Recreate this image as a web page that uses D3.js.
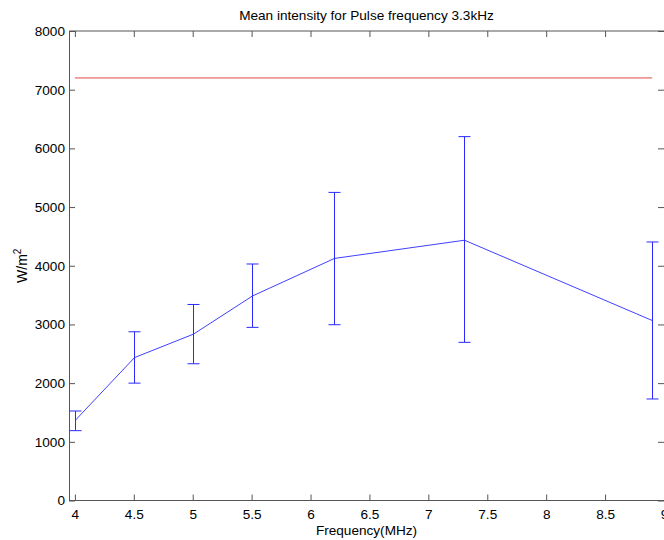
<!DOCTYPE html>
<html><head><meta charset="utf-8">
<script src="https://cdn.jsdelivr.net/npm/d3@7"></script>
<style>body{margin:0;background:#fff}svg{display:block}text{font-family:"Liberation Sans",Arial,sans-serif;fill:#000}</style>
</head><body><svg id="c" width="664" height="540"></svg>
<script>
const freqs = [4, 4.5, 5, 5.5, 6.2, 7.3, 8.9];
const means = [1370, 2435, 2835, 3485, 4125, 4435, 3065];
const lower = [1190, 2000, 2330, 2950, 2995, 2695, 1730];
const upper = [1525, 2875, 3340, 4030, 5250, 6200, 4405];
const refLevel = 7200;
const xTicks = [4, 4.5, 5, 5.5, 6, 6.5, 7, 7.5, 8, 8.5, 9];
const yTicks = [0, 1000, 2000, 3000, 4000, 5000, 6000, 7000, 8000];
const title = "Mean intensity for Pulse frequency 3.3kHz";
const xTitle = "Frequency(MHz)";

const svg = d3.select("#c");
const L = 69, R = 664, T = 31, B = 500.5;
const x = d3.scaleLinear().domain([3.95, 9.0]).range([L, R]);
const y = d3.scaleLinear().domain([0, 8000]).range([B, T]);
const axisCol = "#555";
const fs = 13.6;

const xa = d3.axisBottom(x).tickValues(xTicks).tickSize(-6).tickPadding(9).tickFormat(d3.format("~g"));
const xt = d3.axisTop(x).tickValues(xTicks).tickSize(-6).tickFormat("");
const ya = d3.axisLeft(y).tickValues(yTicks).tickSize(6).tickPadding(3).tickFormat(d3.format("d"));
const yr = d3.axisRight(y).tickValues(yTicks).tickSize(-6).tickFormat("");
function style(g){
  g.selectAll("path.domain").remove();
  g.selectAll("line").attr("stroke", axisCol);
  g.selectAll("text").attr("font-size", fs).attr("fill","#000").attr("font-family","Liberation Sans, Arial, sans-serif");
}
svg.append("g").attr("transform",`translate(0,${B})`).call(xa).call(style);
svg.append("g").attr("transform",`translate(0,${T})`).call(xt).call(style);
svg.append("g").attr("transform",`translate(${R},0)`).call(yr).call(style);
const yg = svg.append("g").attr("transform",`translate(${L},0)`).call(ya).call(style);
yg.selectAll(".tick line").attr("x2", 6);
yg.selectAll(".tick text").attr("x", -4);
// box
svg.append("rect").attr("x", L+0.5).attr("y", T).attr("width", R-L).attr("height", B-T)
  .attr("fill","none").attr("stroke", axisCol).attr("stroke-width",1);

// reference line
svg.append("line").attr("x1", x(freqs[0])).attr("x2", x(freqs[freqs.length-1]))
  .attr("y1", y(refLevel)).attr("y2", y(refLevel)).attr("stroke", "#e04848").attr("stroke-width", 1);

// error bars
const blue = "#2a2aff";
const eb = svg.append("g").attr("stroke", blue).attr("stroke-width", 1).attr("fill","none");
freqs.forEach((f,i)=>{
  const cx = Math.round(x(f))+0.5;
  eb.append("line").attr("x1",cx).attr("x2",cx).attr("y1",y(lower[i])).attr("y2",y(upper[i]));
  eb.append("line").attr("x1",cx-6).attr("x2",cx+6).attr("y1",y(lower[i])).attr("y2",y(lower[i]));
  eb.append("line").attr("x1",cx-6).attr("x2",cx+6).attr("y1",y(upper[i])).attr("y2",y(upper[i]));
});
const line = d3.line().x((d,i)=>Math.round(x(freqs[i]))+0.5).y(d=>y(d));
svg.append("path").datum(means).attr("d", line).attr("fill","none").attr("stroke", blue).attr("stroke-width", 0.9);

// titles
svg.append("text").attr("x", (L+R)/2).attr("y", 20).attr("text-anchor","middle").attr("font-size", fs).text(title);
svg.append("text").attr("x", (L+R)/2).attr("y", 535).attr("text-anchor","middle").attr("font-size", fs).text(xTitle);
const yl = svg.append("text").attr("transform",`translate(27,${(T+B)/2}) rotate(-90)`).attr("text-anchor","middle").attr("font-size", 14);
yl.append("tspan").text("W/m");
yl.append("tspan").attr("dy", -6).attr("font-size", 10).text("2");
</script></body></html>
